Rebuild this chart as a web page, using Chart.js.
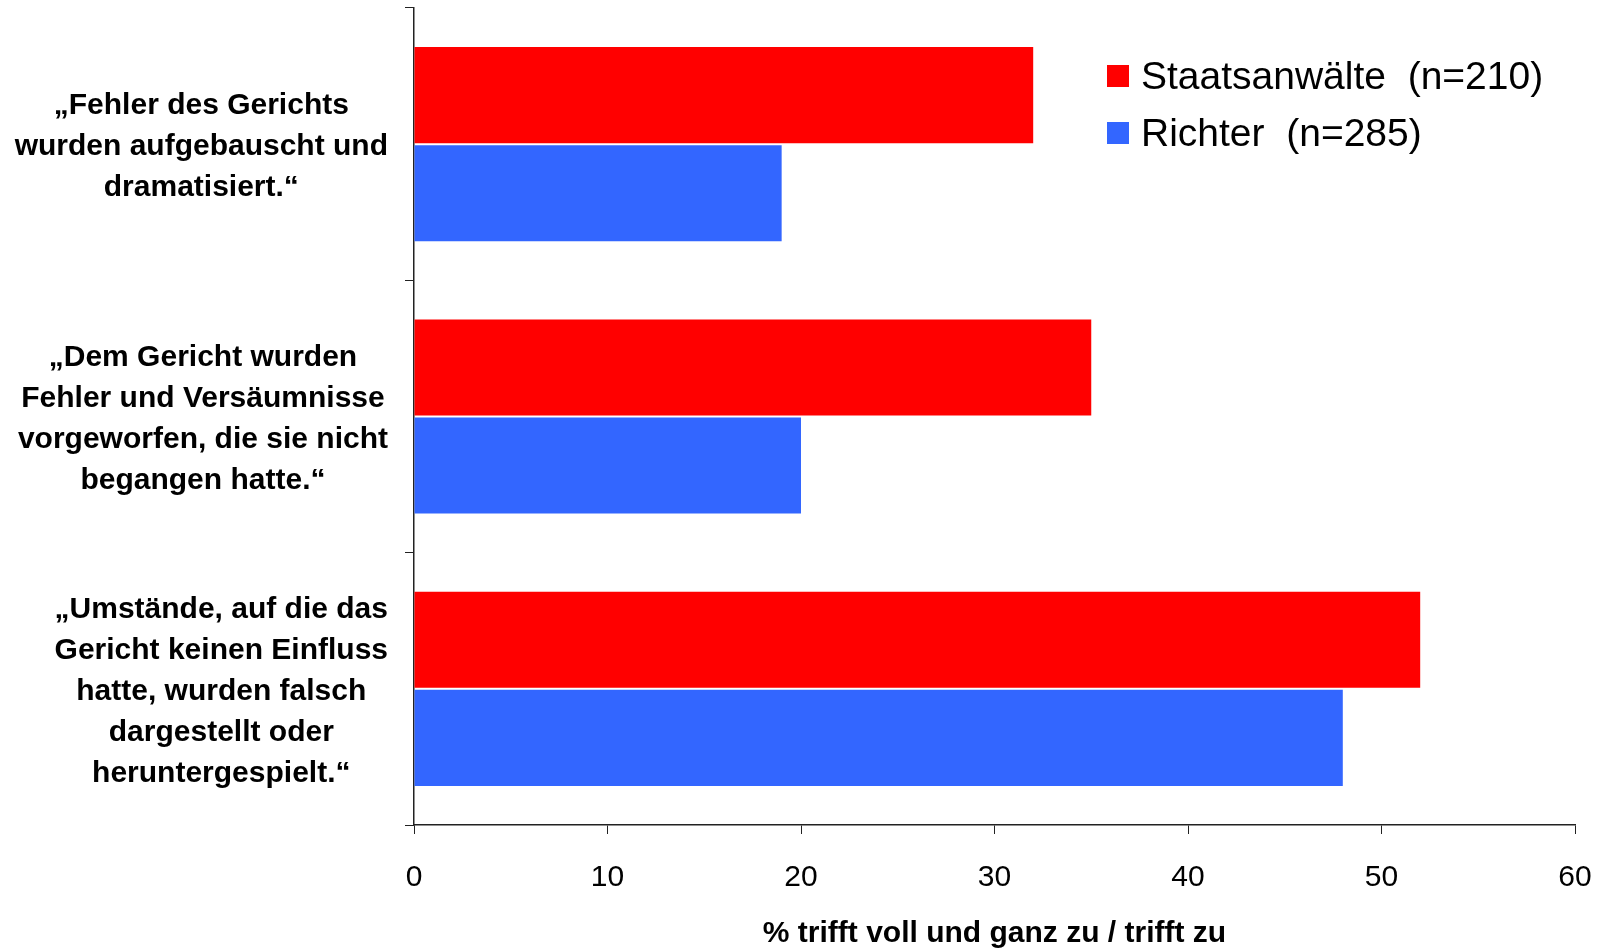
<!DOCTYPE html>
<html>
<head>
<meta charset="utf-8">
<script src="https://cdn.jsdelivr.net/npm/chart.js@4"></script>
<style>
  html, body { margin: 0; padding: 0; background: #fff; }
  #wrap { width: 1605px; height: 948px; }
</style>
</head>
<body>
<div id="wrap"><canvas id="bar"></canvas></div>
<script>
// data
const statements = [
  ['„Fehler des Gerichts', 'wurden aufgebauscht und', 'dramatisiert.“'],
  ['„Dem Gericht wurden', 'Fehler und Versäumnisse', 'vorgeworfen, die sie nicht', 'begangen hatte.“'],
  ['„Umstände, auf die das', 'Gericht keinen Einfluss', 'hatte, wurden falsch', 'dargestellt oder', 'heruntergespielt.“']
];
const staatsanwaelte = [32, 35, 52];
const richter = [19, 20, 48];
const seriesNames = ['Staatsanwälte  (n=210)', 'Richter  (n=285)'];
const xTicks = [0, 10, 20, 30, 40, 50, 60];

const FONT = "'Liberation Sans', Arial, sans-serif";

// simple legend in the top right of the plot
const legendBox = {
  id: 'legendBox',
  afterDraw(chart) {
    const ctx = chart.ctx;
    ctx.save();
    ctx.font = '39px ' + FONT;
    ctx.textBaseline = 'middle';
    ctx.textAlign = 'left';
    chart.data.datasets.forEach((ds, i) => {
      const y = 76 + i * 57;
      ctx.fillStyle = ds.backgroundColor;
      ctx.fillRect(1107, y - 11, 22, 22);
      ctx.fillStyle = '#000';
      ctx.fillText(ds.label, 1141, y + 2);
    });
    ctx.restore();
  }
};

// category labels: each block right-aligned to the axis, lines centred inside the block
const blockLabels = {
  id: 'blockLabels',
  afterDraw(chart) {
    const ctx = chart.ctx;
    const y = chart.scales.y;
    ctx.save();
    ctx.font = 'bold 30px ' + FONT;
    ctx.fillStyle = '#000';
    ctx.textAlign = 'center';
    ctx.textBaseline = 'middle';
    const lh = 41;
    chart.data.labels.forEach((lines, i) => {
      const w = Math.max(...lines.map(l => ctx.measureText(l).width));
      const cx = 388 - w / 2;
      const cy = y.getPixelForTick(i) + 3;
      lines.forEach((l, j) => {
        ctx.fillText(l, cx, cy + (j - (lines.length - 1) / 2) * lh);
      });
    });
    ctx.restore();
  }
};

new Chart(document.getElementById('bar'), {
  type: 'bar',
  data: {
    labels: statements,
    datasets: [
      {
        label: seriesNames[0],
        data: staatsanwaelte,
        backgroundColor: '#FF0000',
        borderWidth: 0,
        categoryPercentage: 0.72,
        barPercentage: 0.98,
      },
      {
        label: seriesNames[1],
        data: richter,
        backgroundColor: '#3366FF',
        borderWidth: 0,
        categoryPercentage: 0.72,
        barPercentage: 0.98,
      },
    ],
  },
  options: {
    indexAxis: 'y',
    animation: false,
    responsive: true,
    maintainAspectRatio: false,
    layout: { padding: { top: 8, right: 30, left: 0, bottom: 0 } },
    plugins: {
      legend: { display: false },
      tooltip: { enabled: false },
    },
    scales: {
      x: {
        min: 0,
        max: 60,
        afterBuildTicks: (scale) => { scale.ticks = xTicks.map(v => ({ value: v })); },
        afterFit: (scale) => {
          scale.height = 123;
          scale.paddingLeft = 0;
          scale.paddingRight = 0;
        },
        grid: { drawOnChartArea: false, tickLength: 9, color: '#222', tickWidth: 1 },
        border: { color: '#222', width: 1.5 },
        ticks: { color: '#000', padding: 26, font: { family: FONT, size: 30 } },
        title: {
          display: true,
          text: '% trifft voll und ganz zu / trifft zu',
          color: '#000',
          padding: { top: 0, bottom: -4 },
          font: { family: FONT, size: 30, weight: 'bold' },
        },
      },
      y: {
        afterFit: (scale) => {
          scale.width = 414;
          scale.paddingTop = 0;
          scale.paddingBottom = 0;
        },
        grid: { drawOnChartArea: false, offset: true, tickLength: 9, color: '#222', tickWidth: 1 },
        border: { color: '#222', width: 1.5 },
        ticks: { display: false },
      },
    },
  },
  plugins: [legendBox, blockLabels],
});
</script>
</body>
</html>
